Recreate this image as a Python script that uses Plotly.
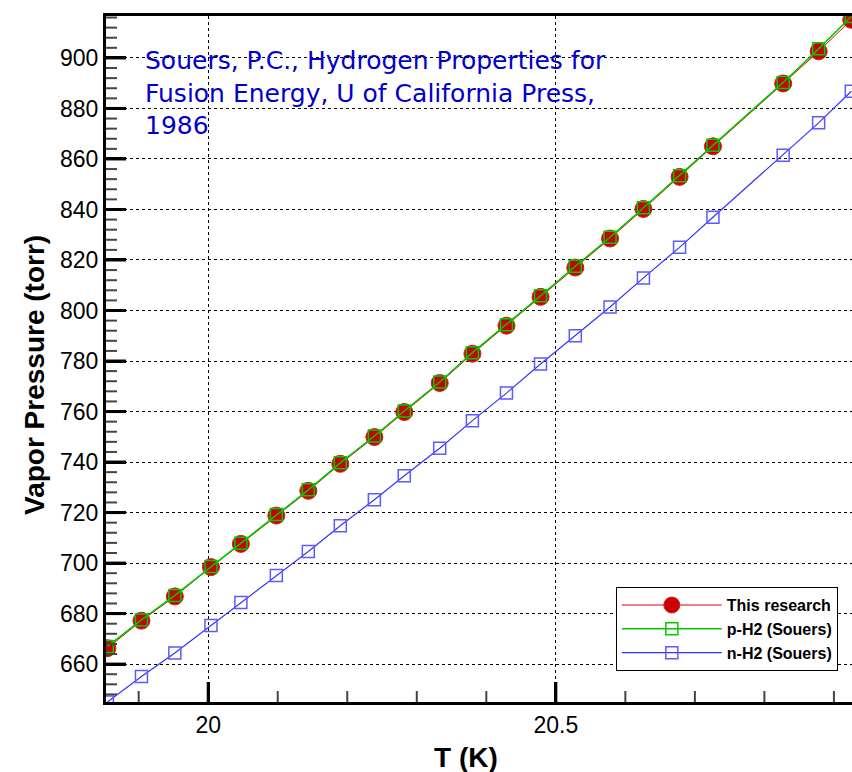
import plotly.graph_objects as go

# ---- data ----
temperature_K = [19.855, 19.904, 19.952, 20.004, 20.047, 20.098, 20.144, 20.190,
                 20.239, 20.282, 20.333, 20.380, 20.429, 20.478, 20.528, 20.578,
                 20.626, 20.678, 20.726, 20.827, 20.878, 20.925]
this_research = [666.3, 677.2, 686.8, 698.4, 707.6, 718.8, 728.6, 739.3,
                 749.9, 759.8, 771.3, 782.9, 794.0, 805.4, 817.0, 828.5,
                 840.2, 852.9, 865.0, 889.9, 902.6, 915.1]
p_h2_souers = [667.0, 677.5, 687.2, 698.6, 707.9, 719.2, 729.0, 739.7,
               750.3, 760.2, 771.7, 783.3, 794.4, 805.8, 817.5, 829.0,
               840.7, 853.4, 865.4, 890.3, 903.6, 916.4]
n_h2_souers = [645.0, 655.1, 664.4, 675.3, 684.4, 695.1, 704.6, 714.8,
               725.1, 734.6, 745.5, 756.4, 767.3, 778.8, 790.0, 801.4,
               812.9, 825.0, 836.9, 861.5, 874.3, 886.8]

series_names = ["This research", "p-H2 (Souers)", "n-H2 (Souers)"]
x_tickvals = [20, 20.5]
x_minor_tickvals = [19.9, 20.1, 20.2, 20.3, 20.4, 20.6, 20.7, 20.8, 20.9]
y_tickvals = [660, 680, 700, 720, 740, 760, 780, 800, 820, 840, 860, 880, 900]
y_minor_tickvals = [v for v in range(648, 917, 4) if v % 20 != 0]
x_title = "T (K)"
y_title = "Vapor Pressure (torr)"
note_text = ("Souers, P.C., Hydrogen Properties for<br>"
             "Fusion Energy, U of California Press,<br>1986")

X_RANGE = [19.853, 20.926]
Y_RANGE = [645.0, 916.6]
FONT = "Liberation Sans, Arial, sans-serif"

# plot-area size in px (width 852 - 106 - 0, height 772 - 16 - 70)
PW, PH = 746, 686
px_x = (X_RANGE[1] - X_RANGE[0]) / PW   # K per pixel
px_y = (Y_RANGE[1] - Y_RANGE[0]) / PH   # torr per pixel

fig = go.Figure()
fig.add_trace(go.Scatter(
    x=temperature_K, y=this_research, name=series_names[0], mode="lines+markers",
    line=dict(color="#e00000", width=1),
    marker=dict(symbol="circle", size=17, color="#cc0000",
                line=dict(color="#d42020", width=1))))
fig.add_trace(go.Scatter(
    x=temperature_K, y=p_h2_souers, name=series_names[1], mode="lines+markers",
    line=dict(color="#00c800", width=1.5),
    marker=dict(symbol="square-open", size=12, color="#00cc00",
                line=dict(color="#00cc00", width=1.5))))
fig.add_trace(go.Scatter(
    x=temperature_K, y=n_h2_souers, name=series_names[2], mode="lines+markers",
    line=dict(color="#3333ff", width=1.2),
    marker=dict(symbol="square-open", size=12, color="#5a5aff",
                line=dict(color="#5a5aff", width=1.5))))


def tick_trace(vals, axis, length_px, color, width):
    xs, ys = [], []
    for v in vals:
        if axis == "x":
            xs += [v, v, None]
            ys += [Y_RANGE[0], Y_RANGE[0] + length_px * px_y, None]
        else:
            xs += [X_RANGE[0], X_RANGE[0] + length_px * px_x, None]
            ys += [v, v, None]
    return go.Scatter(x=xs, y=ys, mode="lines", showlegend=False,
                      hoverinfo="skip", line=dict(color=color, width=width))


fig.add_trace(tick_trace(x_minor_tickvals, "x", 11, "#444444", 2))
fig.add_trace(tick_trace(y_minor_tickvals, "y", 11, "#444444", 2))
fig.add_trace(tick_trace(x_tickvals, "x", 20, "#000000", 3))
fig.add_trace(tick_trace(y_tickvals, "y", 20, "#000000", 3))

fig.update_layout(
    template="none",
    width=852, height=772,
    margin=dict(l=106, r=0, t=16, b=70),
    plot_bgcolor="white", paper_bgcolor="white",
    font=dict(family=FONT, color="black"),
    showlegend=True,
    legend=dict(x=0.981, y=0.045, xanchor="right", yanchor="bottom",
                bgcolor="white", bordercolor="black", borderwidth=1,
                font=dict(family=FONT, size=16, color="black", weight="bold"),
                tracegroupgap=0, itemwidth=100),
    xaxis=dict(
        range=X_RANGE, tickmode="array", tickvals=x_tickvals,
        ticks="inside", ticklen=20, tickwidth=3, tickcolor="#000000",
        tickfont=dict(family=FONT, size=23, color="black"),
        showline=True, linecolor="black", linewidth=3, mirror=True,
        showgrid=True, gridcolor="black", gridwidth=1, griddash="dot",
        zeroline=False,
    ),
    yaxis=dict(
        range=Y_RANGE, tickmode="array", tickvals=y_tickvals,
        ticks="inside", ticklen=20, tickwidth=3, tickcolor="#000000",
        tickfont=dict(family=FONT, size=23, color="black"),
        showline=True, linecolor="black", linewidth=3, mirror=False,
        showgrid=True, gridcolor="black", gridwidth=1, griddash="dot",
        zeroline=False,
    ),
)

fig.add_annotation(
    text=y_title, xref="paper", yref="paper", x=-0.0952, y=0.4767,
    xanchor="center", yanchor="middle", textangle=-90, showarrow=False,
    font=dict(family=FONT, size=28, color="black", weight="bold"))
fig.add_annotation(
    text=x_title, xref="paper", yref="paper", x=0.4826, y=-0.0802,
    xanchor="center", yanchor="middle", showarrow=False,
    font=dict(family=FONT, size=28, color="black", weight="bold"))
fig.add_annotation(
    text=note_text, xref="paper", yref="paper", x=0.0496, y=0.959,
    xanchor="left", yanchor="top", align="left", showarrow=False,
    font=dict(family="DejaVu Sans, sans-serif", size=25, color="#0000cc"))

fig.write_html("out.html")
